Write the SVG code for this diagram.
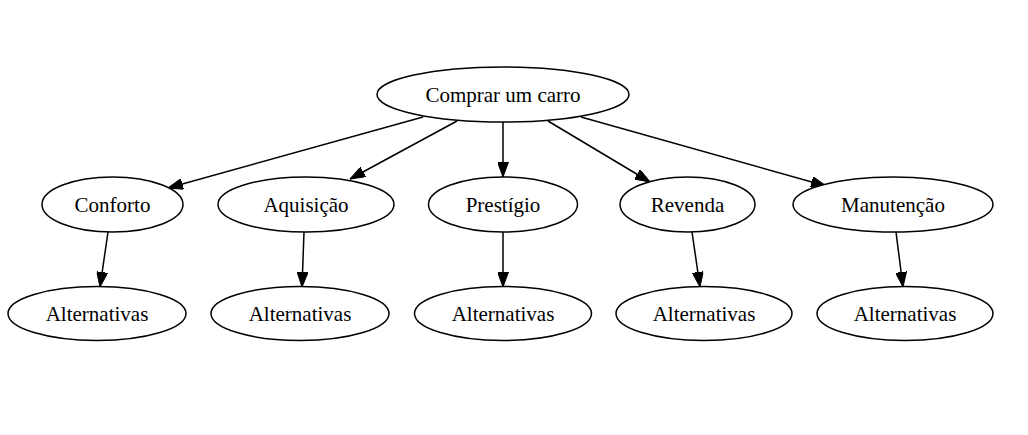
<svg xmlns="http://www.w3.org/2000/svg" width="1028" height="435" viewBox="0 0 1028 435">
<style>
.node ellipse { fill: #ffffff; stroke: #000000; stroke-width: 1.5; }
.node text { font-family: "Liberation Serif", "Times New Roman", serif; font-size: 21px; fill: #000000; text-anchor: middle; }
.edges line { stroke: #000000; stroke-width: 1.5; marker-end: url(#arrow); }
</style>
<defs>
<marker id="arrow" viewBox="0 0 15 11" refX="15" refY="5.5" markerWidth="15" markerHeight="11" markerUnits="userSpaceOnUse" orient="auto">
<path d="M0,0 L15,5.5 L0,11 z" fill="#000000" stroke="#000000" stroke-width="1"/>
</marker>
</defs>
<rect width="1028" height="435" fill="#ffffff"/>
<g class="edges">
<line x1="423" y1="117" x2="168" y2="188"/>
<line x1="457" y1="121" x2="350" y2="179"/>
<line x1="503" y1="122" x2="503" y2="177"/>
<line x1="548" y1="121" x2="650" y2="182"/>
<line x1="581" y1="117" x2="826" y2="186"/>
<line x1="108" y1="232" x2="100" y2="287"/>
<line x1="304" y1="232" x2="302" y2="287"/>
<line x1="503" y1="232" x2="503" y2="287"/>
<line x1="692" y1="232" x2="700" y2="287"/>
<line x1="896" y1="232" x2="903" y2="287"/>
</g>
<g id="root" class="node"><ellipse cx="503" cy="94.5" rx="126" ry="27.5"/><text x="503" y="102">Comprar um carro</text></g>
<g id="conforto" class="node"><ellipse cx="112.5" cy="204.5" rx="70.5" ry="27.5"/><text x="112.5" y="211.5">Conforto</text></g>
<g id="aquisicao" class="node"><ellipse cx="306" cy="204.5" rx="88" ry="27.5"/><text x="306" y="211.5">Aquisição</text></g>
<g id="prestigio" class="node"><ellipse cx="503" cy="204.5" rx="74.5" ry="27.5"/><text x="503" y="211.5">Prestígio</text></g>
<g id="revenda" class="node"><ellipse cx="687.5" cy="204.5" rx="67.5" ry="27.5"/><text x="687.5" y="211.5">Revenda</text></g>
<g id="manutencao" class="node"><ellipse cx="893" cy="204.5" rx="100" ry="27.5"/><text x="893" y="211.5">Manutenção</text></g>
<g id="alt1" class="node"><ellipse cx="97" cy="313.5" rx="89" ry="27"/><text x="97" y="320.5">Alternativas</text></g>
<g id="alt2" class="node"><ellipse cx="300" cy="313.5" rx="89" ry="27"/><text x="300" y="320.5">Alternativas</text></g>
<g id="alt3" class="node"><ellipse cx="503" cy="313.5" rx="88.5" ry="27"/><text x="503" y="320.5">Alternativas</text></g>
<g id="alt4" class="node"><ellipse cx="704" cy="313.5" rx="88" ry="27"/><text x="704" y="320.5">Alternativas</text></g>
<g id="alt5" class="node"><ellipse cx="905" cy="313.5" rx="88" ry="27"/><text x="905" y="320.5">Alternativas</text></g>
</svg>
